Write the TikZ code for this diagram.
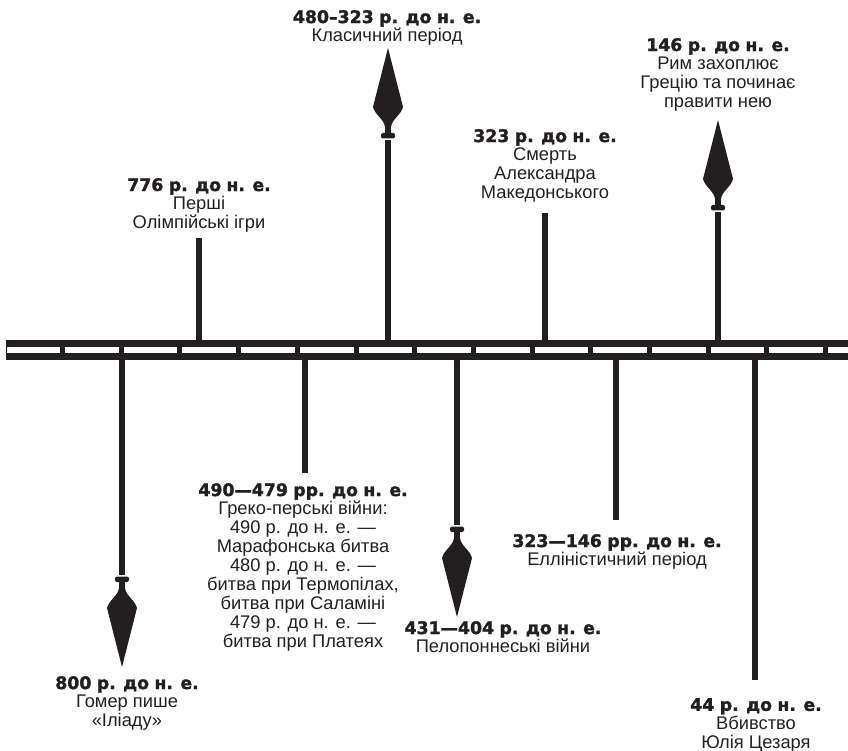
\documentclass[tikz,border=0pt]{standalone}
\usepackage{fontspec}
\setmainfont{Liberation Sans}
\newfontfamily\datefont{DejaVu Sans}[WordSpace=0.9, BoldFeatures={FakeBold=1.6}]
\usetikzlibrary{positioning,calc}
\definecolor{ink_black}{HTML}{231f20}
\newcommand{\when}[1]{{\datefont\bfseries\fontsize{17.3}{18.9}\selectfont #1}}
\tikzstyle{event}   = [align=center, inner sep=0pt, anchor=north, text=ink_black, font=\fontsize{18.3}{18.9}\selectfont]
\tikzstyle{post}    = [draw=ink_black, line width=6.5pt]
\tikzset{
  spear/.pic={
    \fill [ink_black, rounded corners=2pt] (-7,-1.5) rectangle (7,-7);
    \fill [ink_black] (-3,-6) rectangle (3,-14);
    \fill [ink_black] (-3,-13) .. controls (-4,-21) and (-13,-25) .. (-15,-33)
      -- (0,-92) -- (15,-33) .. controls (13,-25) and (4,-21) .. (3,-13) -- cycle;
  }
}

\begin{document}
\begin{tikzpicture}[x=1pt, y=-1pt]
   \useasboundingbox (0,0) rectangle (848,751);

   % Rail
   \fill [ink_black] (6,340) rectangle (848,360);
   \fill [white] (7,347) rectangle (848,353);
   \foreach \i in {0,...,13}
      \fill [ink_black] ({60+58.7*\i},347) rectangle ({65+58.7*\i},353);

   % Above the rail
   \coordinate (olympic top) at (199,238);
   \draw [post] (199,340) -- (olympic top);
   \node at (199, 178) [event] (olympic) {\when{776 р. до н. е.}\\Перші\\Олімпійські ігри};

   \coordinate (classic top) at (388,140);
   \draw [post] (388,340) -- (classic top);
   \pic at (classic top) {spear};
   \node at (387, 10) [event] (classic) {\when{480–323 р. до н. е.}\\Класичний період};

   \coordinate (alexander top) at (545,213);
   \draw [post] (545,340) -- (alexander top);
   \node at (545, 129) [event] (alexander) {\when{323 р. до н. е.}\\Смерть\\Александра\\Македонського};

   \coordinate (rome top) at (718,212);
   \draw [post] (718,340) -- (rome top);
   \pic at (rome top) {spear};
   \node at (718, 38) [event] (rome) {\when{146 р. до н. е.}\\Рим захоплює\\Грецію та починає\\правити нею};

   % Below the rail
   \coordinate (iliad end) at (122,575);
   \draw [post] (122,360) -- (iliad end);
   \pic [rotate=180] at (iliad end) {spear};
   \node at (127, 676) [event] (iliad) {\when{800 р. до н. е.}\\Гомер пише\\«Іліаду»};

   \coordinate (persian end) at (305,473);
   \draw [post] (305,360) -- (persian end);
   \node at (303, 483) [event] (persian) {\when{490—479 рр. до н. е.}\\Греко-перські війни:\\490 р. до н. е. —\\Марафонська битва\\480 р. до н. е. —\\битва при Термопілах,\\битва при Саламіні\\479 р. до н. е. —\\битва при Платеях};

   \coordinate (peloponnese end) at (457,525);
   \draw [post] (457,360) -- (peloponnese end);
   \pic [rotate=180] at (peloponnese end) {spear};
   \node at (503, 621) [event] (peloponnese) {\when{431—404 р. до н. е.}\\Пелопоннеські війни};

   \coordinate (hellenistic end) at (616,520);
   \draw [post] (616,360) -- (hellenistic end);
   \node at (617, 534) [event] (hellenistic) {\when{323—146 рр. до н. е.}\\Елліністичний період};

   \coordinate (caesar end) at (755,680);
   \draw [post] (755,360) -- (caesar end);
   \node at (756, 698) [event] (caesar) {\when{44 р. до н. е.}\\Вбивство\\Юлія Цезаря};

\end{tikzpicture}
\end{document}
